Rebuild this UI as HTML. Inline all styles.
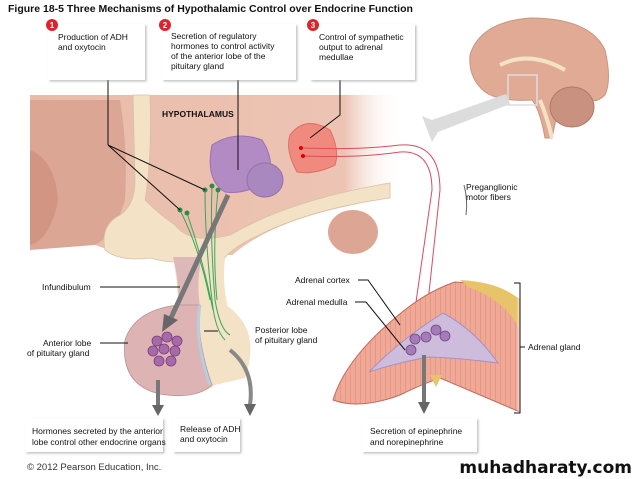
<!DOCTYPE html>
<html><head><meta charset="utf-8"><style>
html,body{margin:0;padding:0;background:#fff;}
svg{display:block;font-family:"Liberation Sans",Arial,sans-serif;}
.t{font-size:8.5px;fill:#111;}
.b{font-weight:bold;}
</style></head><body>
<svg width="638" height="479" viewBox="0 0 638 479" xmlns="http://www.w3.org/2000/svg">
<defs>
<linearGradient id="fadeR" x1="0" x2="1"><stop offset="0" stop-color="#e9bba9"/><stop offset="0.85" stop-color="#edc4b4"/><stop offset="1" stop-color="#fff" stop-opacity="0"/></linearGradient>
<linearGradient id="fadeA" x1="0" x2="1"><stop offset="0" stop-color="#fff" stop-opacity="0"/><stop offset="0.82" stop-color="#fff" stop-opacity="0"/><stop offset="1" stop-color="#fff"/></linearGradient>
<pattern id="stripe" width="5" height="5" patternUnits="userSpaceOnUse"><rect width="5" height="5" fill="#f0a897"/><line x1="0" y1="0" x2="0" y2="5" stroke="#d8806e" stroke-width="0.8"/></pattern>
<filter id="sh"><feDropShadow dx="1.5" dy="1.5" stdDeviation="1" flood-color="#999" flood-opacity="0.6"/></filter>
</defs>

<text x="8" y="12" class="b" style="font-size:10.5px" fill="#111">Figure 18-5  Three Mechanisms of Hypothalamic Control over Endocrine Function</text>

<!-- hypothalamus region -->
<rect x="30" y="95" width="370" height="160" fill="url(#fadeR)"/>
<path d="M30 100 L120 100 Q128 150 125 200 Q115 235 95 245 L30 250 Z" fill="#dba694"/>
<path d="M30 150 Q55 160 58 200 Q50 240 30 245 Z" fill="#d29584"/>
<path d="M30 250 L95 245 Q140 262 175 258 L175 275 L30 275 Z" fill="#fff"/>
<!-- cream band -->
<path d="M133 95 L150 95 Q152 160 145 200 Q160 215 175 225 Q190 245 230 235 Q290 200 390 183 L390 198 Q300 210 240 245 Q225 255 222 262 L175 262 Q165 262 150 258 Q120 262 105 250 Q100 225 120 215 Q135 205 135 180 Z" fill="#f3e2c6" stroke="#d5c2a6" stroke-width="0.8"/>
<path d="M225 262 Q270 215 395 198 L395 275 L225 275Z" fill="#fff"/>
<ellipse cx="353" cy="232" rx="25" ry="22" fill="#dca594"/>
<!-- stalk & pituitary -->
<path d="M173 257 Q178 285 178 307 L228 307 Q222 285 225 258 Z" fill="#f3e2c6"/>
<path d="M173 257 Q180 285 178 307 L200 307 Q196 280 202 257 Z" fill="#ddb8b8"/>
<path d="M178 305 Q135 310 125 340 Q120 385 160 394 Q195 400 215 385 L245 378 Q258 340 240 318 Q232 308 225 305 Z" fill="#f3e2c6"/>
<path d="M178 305 Q135 310 125 340 Q120 385 160 394 Q195 400 212 385 Q196 340 200 305 Z" fill="#ddb3b3" stroke="#b89090" stroke-width="0.8"/>
<path d="M200 305 Q194 340 210 385" stroke="#b8cde0" stroke-width="3" fill="none"/>
<!-- cells -->
<g fill="#a76aa8" stroke="#7a3f7c" stroke-width="0.8">
<circle cx="157" cy="341" r="5"/><circle cx="167" cy="337" r="5"/><circle cx="177" cy="341" r="5"/>
<circle cx="153" cy="351" r="5"/><circle cx="164" cy="349" r="5"/><circle cx="175" cy="351" r="5"/>
<circle cx="159" cy="361" r="5"/><circle cx="171" cy="361" r="5"/>
</g>
<!-- green neurons -->
<g stroke="#3aa65a" stroke-width="1" fill="none">
<path d="M205 190 Q205 240 212 300 Q215 330 225 340"/>
<path d="M212 186 Q210 240 215 300 Q220 330 230 335"/>
<path d="M218 190 Q212 250 217 300"/>
<path d="M180 210 Q200 250 210 300"/>
<path d="M187 213 Q203 260 213 310"/>
</g>
<g fill="#2e8b4a"><circle cx="205" cy="190" r="2.5"/><circle cx="212" cy="186" r="2.5"/><circle cx="218" cy="190" r="2.5"/><circle cx="180" cy="210" r="2.5"/><circle cx="187" cy="213" r="2.5"/></g>
<!-- purple nuclei -->
<path d="M212 145 Q235 130 262 140 Q275 160 268 178 Q250 195 225 192 Q205 180 212 145Z" fill="#b28bc4" stroke="#9a72ae"/>
<ellipse cx="265" cy="180" rx="18" ry="17" fill="#a987bf" stroke="#9072a8"/>
<path d="M290 135 Q305 115 330 130 Q340 150 335 165 Q315 175 297 172 Q285 150 290 135Z" fill="#f08a7e" stroke="#e07060"/>
<!-- gray arrow pituitary -->
<path d="M228 195 L170 320" stroke="#777" stroke-width="5"/>
<polygon points="162,332 164,314 178,320" fill="#666"/>
<!-- red fibers -->
<path d="M301 148 Q360 150 400 145 Q440 142 440 190 L425 330" stroke="#d94c5e" stroke-width="1" fill="none"/>
<path d="M303 156 Q360 158 400 152 Q432 150 432 190 L412 330" stroke="#d94c5e" stroke-width="1" fill="none"/>
<circle cx="301" cy="148" r="2" fill="#d00"/><circle cx="303" cy="156" r="2" fill="#d00"/>
<path d="M464 185 Q468 200 466 215" stroke="#666" fill="none"/>
<text x="466" y="190" class="t">Preganglionic</text><text x="466" y="200" class="t">motor fibers</text>

<!-- brain -->
<path d="M470 55 Q480 22 530 18 Q590 18 605 50 Q612 80 605 95 Q595 105 585 98 L560 100 L552 138 L545 138 Q540 110 532 100 Q500 102 485 92 Q468 78 470 55Z" fill="#e0aa94" stroke="#c99680"/>
<path d="M500 65 Q530 50 565 70" stroke="#f3e2c6" stroke-width="4" fill="none"/>
<ellipse cx="572" cy="107" rx="22" ry="20" fill="#c9917f" stroke="#b07868"/>
<path d="M540 100 Q548 120 552 138" stroke="#f3e2c6" stroke-width="4" fill="none"/>
<rect x="508" y="75" width="29" height="30" fill="none" stroke="#ddd" stroke-width="1.5"/>
<polygon points="506,94 432,120 422,116 432,142 438,132 510,104" fill="#dcdcdc"/>

<!-- adrenal gland -->
<path d="M333 400 Q345 360 395 318 Q425 292 455 282 Q500 285 520 300 L520 412 Q480 395 440 378 Q420 385 400 395 Q360 410 333 400 Z" fill="url(#stripe)" stroke="#c06a5c"/>
<path d="M460 280 Q500 282 520 300 L520 330 Q505 300 470 288Z" fill="#e7c36a"/>
<rect x="490" y="270" width="32" height="150" fill="url(#fadeA)"/>
<path d="M369 372 Q400 340 443 313 Q475 330 498 363 Q460 358 429 357 Q400 362 369 372 Z" fill="#cdbcdc" stroke="#a98fc0"/>
<g fill="#a77ab8" stroke="#6e4784" stroke-width="0.8"><circle cx="411" cy="350" r="5"/><circle cx="415" cy="339" r="5"/><circle cx="426" cy="337" r="5"/><circle cx="436" cy="330" r="5"/><circle cx="445" cy="336" r="5"/></g>
<polygon points="430,375 442,375 436,387" fill="#e7c36a"/>
<line x1="424" y1="355" x2="424" y2="402" stroke="#777" stroke-width="4"/>
<polygon points="418,402 430,402 424,414" fill="#666"/>
<path d="M514 283 L520 283 L520 413 L514 413" stroke="#111" fill="none"/>
<line x1="520" y1="347" x2="525" y2="347" stroke="#111"/>
<text x="528" y="350" class="t">Adrenal gland</text>
<text x="295" y="283" class="t">Adrenal cortex</text><path d="M358 280 L368 280 L400 325" stroke="#111" fill="none"/>
<text x="286" y="305" class="t">Adrenal medulla</text><path d="M355 302 L366 302 L405 350" stroke="#111" fill="none"/>

<!-- bottom arrows -->
<line x1="158" y1="380" x2="158" y2="405" stroke="#777" stroke-width="4"/><polygon points="152,405 164,405 158,416" fill="#666"/>
<path d="M230 350 Q255 370 250 405" stroke="#888" stroke-width="4" fill="none"/><polygon points="244,404 256,404 250,416" fill="#666"/>

<!-- leader lines -->
<g stroke="#111" stroke-width="1" fill="none">
<line x1="108" y1="80" x2="108" y2="145"/><path d="M108 145 L205 190 M108 145 L180 210"/>
<line x1="238" y1="80" x2="238" y2="170"/>
<path d="M340 80 L340 115 L310 138"/>
<line x1="100" y1="287" x2="180" y2="287"/>
<line x1="100" y1="343" x2="128" y2="343"/>
<line x1="204" y1="331" x2="218" y2="331"/>
</g>
<text x="162" y="117" class="t b">HYPOTHALAMUS</text>
<text x="42" y="290" class="t">Infundibulum</text>
<text x="43" y="346" class="t">Anterior lobe</text><text x="27" y="356" class="t">of pituitary gland</text>
<text x="255" y="333" class="t">Posterior lobe</text><text x="255" y="343" class="t">of pituitary gland</text>

<!-- boxes -->
<g fill="#fff" filter="url(#sh)">
<rect x="48" y="24" width="97" height="56"/><rect x="162" y="24" width="134" height="56"/><rect x="310" y="24" width="105" height="56"/>
<rect x="25" y="418" width="138" height="34"/><rect x="173" y="418" width="67" height="34"/><rect x="362" y="418" width="115" height="34"/>
</g>
<g fill="#d9262e"><circle cx="52" cy="25" r="6"/><circle cx="165" cy="25" r="6"/><circle cx="313" cy="25" r="6"/></g>
<g fill="#fff" font-size="8" font-weight="bold" text-anchor="middle"><text x="52" y="28">1</text><text x="165" y="28">2</text><text x="313" y="28">3</text></g>
<text x="58" y="40" class="t">Production of ADH</text><text x="58" y="50" class="t">and oxytocin</text>
<text x="171" y="39" class="t">Secretion of regulatory</text><text x="171" y="49" class="t">hormones to control activity</text><text x="171" y="59" class="t">of the anterior lobe of the</text><text x="171" y="69" class="t">pituitary gland</text>
<text x="319" y="40" class="t">Control of sympathetic</text><text x="319" y="50" class="t">output to adrenal</text><text x="319" y="60" class="t">medullae</text>
<text x="32" y="434" class="t">Hormones secreted by the anterior</text><text x="32" y="445" class="t">lobe control other endocrine organs</text>
<text x="180" y="432" class="t">Release of ADH</text><text x="180" y="442" class="t">and oxytocin</text>
<text x="370" y="434" class="t">Secretion of epinephrine</text><text x="370" y="445" class="t">and norepinephrine</text>

<text x="27" y="470" fill="#333" font-size="9.5px">© 2012 Pearson Education, Inc.</text>
<text x="632" y="473" text-anchor="end" fill="#111" font-size="17px" font-weight="bold" font-family="DejaVu Sans, sans-serif">muhadharaty.com</text>
</svg>
</body></html>
